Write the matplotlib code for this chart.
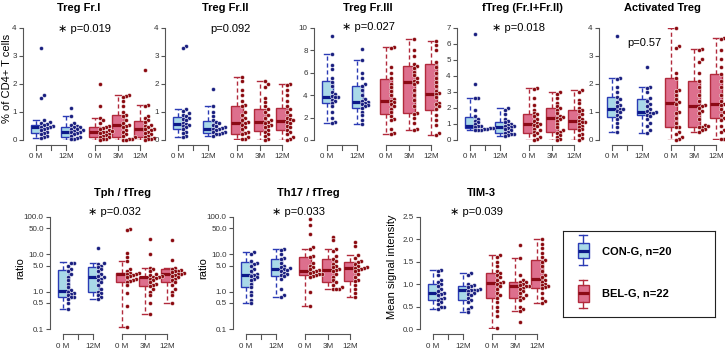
import numpy as np
import matplotlib.pyplot as plt
from matplotlib.patches import Rectangle

plt.rcParams['font.family'] = ['Liberation Sans', 'DejaVu Sans']

W, H = 725, 350

group_labels = ["0 M", "12M", "0 M", "3M", "12M"]
legend_labels = ["CON-G, n=20", "BEL-G, n=22"]

# box stats per group: whisker low, q1, median, q3, whisker high
# order: CON 0M, CON 12M, BEL 0M, BEL 3M, BEL 12M
fr1_box = [[0.08, 0.24, 0.46, 0.55, 0.71], [0.0, 0.12, 0.3, 0.48, 0.87],
           [0.0, 0.12, 0.3, 0.47, 0.77], [0.0, 0.12, 0.52, 0.9, 1.6],
           [0.0, 0.12, 0.4, 0.68, 1.25]]
fr1_pts = [[3.3, 1.6, 1.5, 0.7, 0.65, 0.6, 0.58, 0.55, 0.5, 0.48, 0.45, 0.42, 0.4, 0.35, 0.3, 0.25, 0.2, 0.15, 0.1, 0.08],
           [1.13, 0.87, 0.6, 0.55, 0.5, 0.48, 0.45, 0.4, 0.38, 0.35, 0.32, 0.3, 0.28, 0.25, 0.2, 0.15, 0.12, 0.08, 0.05, 0.02],
           [2.0, 1.2, 0.77, 0.7, 0.6, 0.5, 0.47, 0.42, 0.4, 0.35, 0.32, 0.3, 0.28, 0.25, 0.22, 0.18, 0.15, 0.12, 0.1, 0.05, 0.02, 0.0],
           [1.6, 1.58, 1.55, 1.4, 1.2, 1.0, 0.9, 0.85, 0.7, 0.6, 0.55, 0.5, 0.45, 0.35, 0.3, 0.2, 0.15, 0.1, 0.05, 0.02, 0.0, 0.0],
           [2.5, 1.25, 1.2, 0.85, 0.8, 0.7, 0.65, 0.55, 0.5, 0.45, 0.4, 0.38, 0.35, 0.3, 0.25, 0.2, 0.15, 0.12, 0.08, 0.05, 0.02, 0.0]]

fr2_box = [[0.1, 0.38, 0.56, 0.82, 1.12], [0.15, 0.25, 0.4, 0.68, 1.22],
           [0.02, 0.22, 0.62, 1.22, 2.25], [0.0, 0.32, 0.65, 1.12, 2.1],
           [0.0, 0.35, 0.68, 1.15, 2.0]]
fr2_pts = [[3.35, 3.3, 1.12, 1.05, 0.95, 0.9, 0.85, 0.8, 0.75, 0.7, 0.62, 0.58, 0.55, 0.5, 0.45, 0.38, 0.3, 0.25, 0.15, 0.1],
           [1.83, 1.22, 1.0, 0.85, 0.7, 0.65, 0.6, 0.55, 0.5, 0.45, 0.42, 0.4, 0.38, 0.35, 0.3, 0.28, 0.25, 0.22, 0.2, 0.15],
           [2.25, 2.1, 1.8, 1.6, 1.4, 1.25, 1.2, 1.0, 0.9, 0.8, 0.7, 0.65, 0.6, 0.55, 0.45, 0.4, 0.3, 0.25, 0.2, 0.1, 0.05, 0.02],
           [2.1, 2.0, 1.9, 1.5, 1.35, 1.2, 1.1, 1.0, 0.9, 0.8, 0.7, 0.65, 0.6, 0.55, 0.5, 0.45, 0.35, 0.3, 0.2, 0.15, 0.05, 0.0],
           [2.0, 1.95, 1.8, 1.6, 1.4, 1.2, 1.1, 1.0, 0.9, 0.8, 0.75, 0.7, 0.65, 0.6, 0.5, 0.45, 0.35, 0.3, 0.2, 0.1, 0.05, 0.0]]

fr3_box = [[1.55, 3.27, 3.87, 5.25, 7.7], [1.4, 2.85, 3.35, 4.85, 7.1],
           [0.5, 2.3, 3.5, 5.45, 8.3], [0.85, 2.4, 5.2, 6.6, 9.05],
           [0.45, 2.7, 4.15, 6.75, 8.85]]
fr3_pts = [[9.3, 7.7, 6.7, 6.3, 5.5, 5.2, 4.8, 4.3, 4.1, 3.9, 3.85, 3.8, 3.6, 3.5, 3.3, 3.0, 2.5, 2.0, 1.6, 1.55],
           [8.15, 7.1, 6.0, 5.5, 5.0, 4.85, 4.5, 4.0, 3.7, 3.5, 3.4, 3.3, 3.2, 3.1, 3.0, 2.9, 2.5, 2.2, 1.8, 1.4],
           [8.3, 8.2, 6.5, 6.0, 5.5, 5.0, 4.7, 4.4, 4.0, 3.7, 3.5, 3.4, 3.2, 3.0, 2.8, 2.5, 2.1, 1.9, 1.8, 1.0, 0.6, 0.5],
           [9.05, 8.0, 7.5, 6.8, 6.6, 6.4, 6.1, 5.8, 5.5, 5.3, 5.2, 5.0, 4.5, 4.0, 3.6, 3.0, 2.4, 2.3, 2.0, 1.5, 1.0, 0.85],
           [8.85, 8.5, 8.0, 7.0, 6.5, 6.0, 5.5, 5.2, 4.8, 4.4, 4.2, 4.1, 3.8, 3.3, 3.2, 3.0, 2.8, 2.2, 1.8, 1.3, 0.6, 0.45]]

ftreg_box = [[0.6, 0.73, 0.88, 1.46, 2.65], [0.25, 0.45, 0.8, 1.12, 2.0],
             [0.02, 0.42, 1.0, 1.62, 3.25], [0.0, 0.48, 1.4, 2.02, 2.97],
             [0.0, 0.68, 1.18, 1.85, 3.1]]
ftreg_pts = [[6.6, 3.5, 2.65, 2.6, 1.9, 1.5, 1.3, 1.2, 1.1, 1.0, 0.9, 0.85, 0.8, 0.75, 0.72, 0.7, 0.68, 0.65, 0.62, 0.6],
             [2.0, 1.9, 1.6, 1.3, 1.2, 1.1, 1.0, 0.95, 0.9, 0.85, 0.8, 0.75, 0.7, 0.6, 0.5, 0.45, 0.4, 0.35, 0.3, 0.25],
             [3.25, 3.2, 2.6, 2.2, 1.9, 1.7, 1.6, 1.5, 1.3, 1.2, 1.05, 1.0, 0.95, 0.85, 0.7, 0.6, 0.5, 0.45, 0.3, 0.2, 0.05, 0.02],
             [2.97, 2.9, 2.6, 2.3, 2.1, 2.0, 1.9, 1.7, 1.5, 1.45, 1.4, 1.3, 1.2, 1.0, 0.8, 0.6, 0.5, 0.45, 0.3, 0.2, 0.05, 0.0],
             [3.1, 3.0, 2.5, 2.3, 2.0, 1.9, 1.8, 1.6, 1.45, 1.3, 1.2, 1.15, 1.1, 1.0, 0.9, 0.8, 0.7, 0.6, 0.4, 0.3, 0.1, 0.0]]

act_box = [[0.3, 0.82, 1.1, 1.55, 2.2], [0.25, 0.88, 1.0, 1.48, 1.9],
           [0.0, 0.45, 1.32, 2.22, 4.0], [0.3, 0.48, 1.2, 2.12, 3.25],
           [0.02, 0.78, 1.28, 2.35, 3.65]]
act_pts = [[3.72, 2.2, 2.18, 1.9, 1.7, 1.55, 1.45, 1.35, 1.25, 1.2, 1.12, 1.1, 1.05, 1.0, 0.9, 0.82, 0.75, 0.6, 0.45, 0.3],
           [2.6, 1.9, 1.85, 1.7, 1.5, 1.4, 1.3, 1.2, 1.1, 1.05, 1.0, 0.98, 0.95, 0.9, 0.85, 0.75, 0.6, 0.5, 0.35, 0.25],
           [4.0, 3.35, 3.3, 2.4, 2.2, 1.8, 1.75, 1.6, 1.45, 1.35, 1.3, 1.0, 0.95, 0.8, 0.6, 0.48, 0.45, 0.3, 0.2, 0.1, 0.05, 0.0],
           [3.25, 3.2, 2.9, 2.8, 2.4, 2.1, 1.9, 1.6, 1.4, 1.25, 1.2, 1.15, 1.05, 0.95, 0.75, 0.55, 0.5, 0.48, 0.45, 0.4, 0.35, 0.3],
           [3.65, 3.6, 3.2, 2.9, 2.6, 2.35, 2.1, 1.9, 1.6, 1.4, 1.3, 1.25, 1.1, 1.0, 0.9, 0.8, 0.7, 0.5, 0.35, 0.3, 0.05, 0.02]]

tph_box = [[0.34, 0.7, 1.07, 3.8, 6.1], [0.64, 1.0, 2.4, 4.7, 5.8],
           [0.11, 1.86, 2.9, 3.2, 6.6], [0.25, 1.43, 2.4, 2.5, 4.4],
           [0.51, 1.8, 3.0, 4.0, 4.3]]
tph_pts = [[6.0, 5.8, 5.0, 4.0, 3.5, 3.0, 2.5, 2.0, 1.6, 1.3, 1.1, 1.0, 0.9, 0.85, 0.8, 0.72, 0.7, 0.65, 0.5, 0.34],
           [14.4, 5.8, 5.5, 5.0, 4.5, 4.0, 3.5, 3.0, 2.6, 2.4, 2.2, 2.0, 1.8, 1.5, 1.2, 1.0, 0.9, 0.8, 0.7, 0.64],
           [48, 45, 11, 8.5, 6.6, 4.0, 3.5, 3.2, 3.1, 3.0, 2.9, 2.8, 2.6, 2.4, 2.2, 2.0, 1.9, 1.86, 1.5, 0.9, 0.42, 0.11],
           [26, 10.5, 4.4, 4.0, 3.5, 3.0, 2.8, 2.6, 2.5, 2.4, 2.3, 2.2, 2.0, 1.8, 1.6, 1.5, 1.43, 1.2, 1.0, 0.8, 0.5, 0.25],
           [24, 7.0, 4.3, 4.0, 3.8, 3.6, 3.5, 3.3, 3.1, 3.0, 2.9, 2.8, 2.6, 2.4, 2.2, 2.0, 1.8, 1.5, 1.2, 1.0, 0.8, 0.51]]

th17_box = [[0.49, 1.3, 2.8, 6.1, 11.2], [0.7, 2.6, 4.0, 7.7, 13.8],
            [0.42, 2.8, 3.6, 8.6, 13.8], [1.16, 1.78, 3.8, 7.7, 13.8],
            [0.74, 1.94, 4.2, 6.1, 9.5]]
th17_pts = [[11.2, 10, 6.5, 6.0, 5.5, 5.0, 4.0, 3.5, 3.0, 2.8, 2.6, 2.4, 2.2, 2.0, 1.6, 1.3, 1.0, 0.8, 0.6, 0.49],
            [13.8, 13, 10, 8, 7.7, 6.0, 5.0, 4.5, 4.2, 4.0, 3.8, 3.5, 3.2, 3.0, 2.8, 2.6, 2.2, 1.2, 0.8, 0.7],
            [87, 60, 34, 16, 13.8, 9, 8.6, 6.0, 5.0, 4.5, 4.0, 3.8, 3.6, 3.4, 3.2, 3.0, 2.9, 2.8, 2.7, 2.5, 1.0, 0.42],
            [29, 24, 13.8, 12, 9, 7.7, 6.5, 5.5, 5.0, 4.5, 4.0, 3.8, 3.5, 3.0, 2.5, 2.0, 1.78, 1.5, 1.3, 1.2, 1.16, 1.16],
            [21.5, 17, 9.5, 8, 6.5, 6.1, 5.5, 5.0, 4.5, 4.3, 4.2, 4.0, 3.8, 3.5, 3.0, 2.5, 2.0, 1.94, 1.5, 1.2, 0.9, 0.74]]

tim3_box = [[0.45, 0.64, 0.8, 1.0, 1.32], [0.38, 0.64, 0.87, 0.97, 1.26],
            [0.02, 0.7, 1.02, 1.24, 1.66], [0.41, 0.7, 0.96, 1.06, 1.59],
            [0.59, 0.91, 1.11, 1.54, 2.02]]
tim3_pts = [[1.32, 1.3, 1.2, 1.1, 1.05, 1.0, 0.95, 0.9, 0.85, 0.8, 0.78, 0.75, 0.7, 0.68, 0.65, 0.6, 0.55, 0.5, 0.48, 0.45],
            [1.26, 1.2, 1.0, 0.98, 0.95, 0.93, 0.9, 0.88, 0.87, 0.86, 0.85, 0.8, 0.78, 0.75, 0.7, 0.65, 0.6, 0.5, 0.45, 0.38],
            [1.66, 1.6, 1.5, 1.4, 1.3, 1.25, 1.2, 1.15, 1.1, 1.05, 1.02, 1.0, 0.95, 0.9, 0.8, 0.75, 0.7, 0.6, 0.5, 0.4, 0.3, 0.02],
            [1.88, 1.59, 1.2, 1.1, 1.06, 1.05, 1.0, 0.98, 0.96, 0.95, 0.92, 0.9, 0.85, 0.8, 0.75, 0.72, 0.7, 0.65, 0.5, 0.45, 0.41, 0.15],
            [2.0, 1.9, 1.8, 1.7, 1.6, 1.54, 1.5, 1.4, 1.3, 1.2, 1.15, 1.1, 1.05, 1.0, 0.98, 0.95, 0.93, 0.91, 0.8, 0.7, 0.62, 0.59]]

titles = ["Treg Fr.I", "Treg Fr.II", "Treg Fr.III", "fTreg (Fr.I+Fr.II)", "Activated Treg",
          "Tph / fTreg", "Th17 / fTreg", "TIM-3"]
p_values = ["0.019", "0.092", "0.027", "0.018", "0.57", "0.032", "0.033", "0.039"]
p_star = [True, False, True, True, False, True, True, True]

# colors
con_face, con_edge, con_med, con_pt = "#a9d9e8", "#2b3bb5", "#0d1a8a", "#1a1f80"
bel_face, bel_edge, bel_med, bel_pt = "#dd6f8d", "#b22a3c", "#8c0a16", "#8b0a10"
axis_col = "#555555"

fig = plt.figure(figsize=(W / 100, H / 100), dpi=100)

pos = [13, 43, 72, 95, 117]   # px from y axis
box_w = [11, 11, 12, 12, 12]


def fx(x):
    return x / W


def fy(y):
    return 1 - y / H


def swarm(ax, x0, vals, d=3.0):
    # simple one-sided beeswarm in pixel space
    ypx = ax.transData.transform(np.column_stack([np.full(len(vals), x0), vals]))[:, 1]
    order = np.argsort(ypx)
    placed = []
    xs = np.zeros(len(vals))
    for i in order:
        k = 0
        while any(abs(ypx[i] - py) < d and kk == k for py, kk in placed):
            k += 1
        placed.append((ypx[i], k))
        xs[i] = x0 + k * d
    return xs


def panel(left, top, box, pts, ylim, yticks, yticklabels, log=False):
    ax = fig.add_axes([fx(left), fy(top + 112), 135 / W, 112 / H])
    ax.set_xlim(0, 135)
    if log:
        ax.set_yscale('log')
    ax.set_ylim(*ylim)
    ax.patch.set_alpha(0)
    for s in ['top', 'right', 'bottom']:
        ax.spines[s].set_visible(False)
    ax.spines['left'].set_bounds(ylim[0], ylim[1])
    ax.spines['left'].set_color(axis_col)
    ax.spines['left'].set_linewidth(0.8)
    ax.set_xticks([])
    ax.set_yticks(yticks)
    ax.set_yticks([], minor=True)
    ax.set_yticklabels(yticklabels)
    ax.tick_params(axis='y', length=3, width=0.8, color=axis_col, labelsize=5.8,
                   labelcolor="#333333", pad=1.5)

    for i in range(5):
        con = i < 2
        fc, ec, mc, pc = (con_face, con_edge, con_med, con_pt) if con else (bel_face, bel_edge, bel_med, bel_pt)
        st = dict(whislo=box[i][0], q1=box[i][1], med=box[i][2], q3=box[i][3], whishi=box[i][4])
        ax.bxp([st], positions=[pos[i]], widths=[box_w[i]], patch_artist=True, showfliers=False,
               manage_ticks=False, capwidths=[box_w[i] * 0.55],
               boxprops=dict(facecolor=fc, edgecolor=ec, linewidth=1),
               medianprops=dict(color=mc, linewidth=2.3, solid_capstyle='butt'),
               whiskerprops=dict(color=ec, linestyle=(0, (3, 2)), linewidth=1),
               capprops=dict(color=ec, linewidth=1))
        xs = swarm(ax, pos[i] + 5, pts[i])
        ax.plot(xs, pts[i], 'o', ms=2.9, mfc=pc, mec='white', mew=0.35, ls='none',
                clip_on=False, zorder=5)

    # group brackets under the boxes
    tr = ax.get_xaxis_transform()
    yl, yt, ylab = -5 / 112, -10 / 112, -17 / 112
    for grp in ([pos[0], (pos[0] + pos[1]) / 2, pos[1]], pos[2:]):
        ax.plot([grp[0], grp[-1]], [yl, yl], color=axis_col, lw=0.8, transform=tr, clip_on=False)
        for gx in grp:
            ax.plot([gx, gx], [yl, yt], color=axis_col, lw=0.8, transform=tr, clip_on=False)
    for i in range(5):
        ax.text(pos[i], ylab, group_labels[i], transform=tr, ha='center', va='center',
                fontsize=5.8, color="#333333")
    return ax


top_x = [23, 165, 314, 457, 599]
bot_x = [50, 233, 420]
lin4 = [0, 1, 2, 3, 4]
panel(top_x[0], 28, fr1_box, fr1_pts, (0, 4), lin4, [str(v) for v in lin4])
panel(top_x[1], 28, fr2_box, fr2_pts, (0, 4), lin4, [str(v) for v in lin4])
panel(top_x[2], 28, fr3_box, fr3_pts, (0, 10), [0, 2, 4, 6, 8, 10], ["0", "2", "4", "6", "8", "10"])
panel(top_x[3], 28, ftreg_box, ftreg_pts, (0, 7), list(range(8)), [str(v) for v in range(8)])
panel(top_x[4], 28, act_box, act_pts, (0, 4), lin4, [str(v) for v in lin4])
logt = [0.1, 0.5, 1, 5, 10, 50, 100]
logl = ["0.1", "0.5", "1.0", "5.0", "10.0", "50.0", "100.0"]
panel(bot_x[0], 217, tph_box, tph_pts, (0.1, 100), logt, logl, log=True)
panel(bot_x[1], 217, th17_box, th17_pts, (0.1, 100), logt, logl, log=True)
panel(bot_x[2], 217, tim3_box, tim3_pts, (0, 2.5), [0, 0.5, 1, 1.5, 2, 2.5],
      ["0.0", "0.5", "1.0", "1.5", "2.0", "2.5"])

# titles, p-values, axis labels
title_xy = [(79, 8), (225, 8), (368, 8), (522, 8), (662, 8), (122, 193), (308, 193), (481, 193)]
p_xy = [(58, 29), (210, 29), (342, 27), (492, 28), (627, 43), (88, 212), (272, 212), (450, 212)]
for t, (x, y) in zip(titles, title_xy):
    fig.text(fx(x), fy(y), t, ha='center', va='center', fontsize=8, fontweight='bold')
for pv, st, (x, y) in zip(p_values, p_star, p_xy):
    txt = ("\u2217 " if st else "") + "p=" + pv
    fig.text(fx(x), fy(y), txt, ha='left', va='center', fontsize=8)

fig.text(fx(7), fy(78), "% of CD4+ T cells", rotation=90, ha='center', va='center', fontsize=8)
fig.text(fx(20), fy(268), "ratio", rotation=90, ha='center', va='center', fontsize=8)
fig.text(fx(203), fy(268), "ratio", rotation=90, ha='center', va='center', fontsize=8)
fig.text(fx(392), fy(267), "Mean signal intensity", rotation=90, ha='center', va='center', fontsize=8)

# legend box
lx0, ly0, lx1, ly1 = 563, 231, 715, 317
lax = fig.add_axes([fx(lx0), fy(ly1), (lx1 - lx0) / W, (ly1 - ly0) / H])
lax.set_xlim(0, lx1 - lx0)
lax.set_ylim(ly1 - ly0, 0)
lax.set_xticks([])
lax.set_yticks([])
for s in lax.spines.values():
    s.set_linewidth(0.8)
    s.set_color("#222222")
icons = [(4, 12, 20, 27, 34, con_face, con_edge, con_med),
         (49, 54, 62, 71, 77, bel_face, bel_edge, bel_med)]
for (c1, b1, m, b2, c2, fc, ec, mc), lab in zip(icons, legend_labels):
    cx = 20
    lax.add_patch(Rectangle((cx - 5.5, b1), 11, b2 - b1, facecolor=fc, edgecolor=ec, lw=1))
    lax.plot([cx - 5.5, cx + 5.5], [m, m], color=mc, lw=2.3, solid_capstyle='butt')
    lax.plot([cx, cx], [c1, b1], color=ec, lw=1)
    lax.plot([cx, cx], [b2, c2], color=ec, lw=1)
    lax.plot([cx - 4, cx + 4], [c1, c1], color=ec, lw=1)
    lax.plot([cx - 4, cx + 4], [c2, c2], color=ec, lw=1)
    lax.text(39, m, lab, ha='left', va='center', fontsize=8, fontweight='bold')

fig.savefig("out.png", dpi=100)
